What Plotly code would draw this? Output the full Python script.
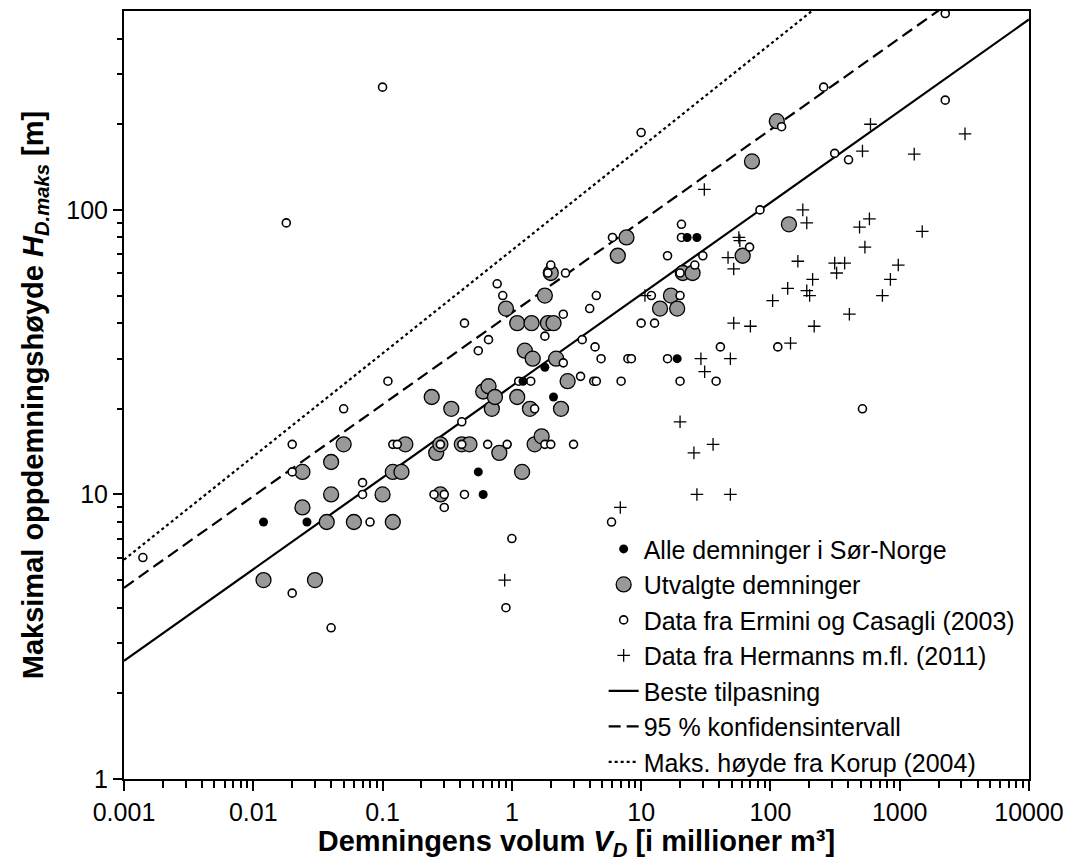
import plotly.graph_objects as go

# ---- Data ----
# Alle demninger i Sør-Norge (black dots)
sor_V = [0.012, 0.026, 0.55, 0.6, 1.22, 1.8, 2.1, 19, 22.7, 27]
sor_H = [8, 8, 12, 10, 25, 28, 22, 30, 80, 80]

# Utvalgte demninger (grey circles)
utv_V = [0.012, 0.03, 0.024, 0.024, 0.037, 0.04, 0.04, 0.05, 0.06, 0.1, 0.12, 0.12,
         0.14, 0.15, 0.24, 0.26, 0.28, 0.28, 0.34, 0.41, 0.47, 0.6, 0.66, 0.7, 0.74,
         0.8, 0.9, 1.1, 1.1, 1.2, 1.26, 1.45, 1.42, 1.38, 1.5, 1.7, 1.8, 1.9, 2.1,
         2.2, 2.4, 2.7, 2.0, 6.6, 7.7, 14, 17, 19, 21, 25, 61, 72, 112, 139]
utv_H = [5, 5, 12, 9, 8, 13, 10, 15, 8, 10, 8, 12,
         12, 15, 22, 14, 15, 10, 20, 15, 15, 23, 24, 20, 22,
         14, 45, 40, 22, 12, 32, 30, 40, 20, 15, 16, 50, 40, 40,
         30, 20, 25, 60, 69, 80, 45, 50, 45, 60, 60, 69, 148, 205, 89]

# Data fra Ermini og Casagli (2003) (open circles)
erm_V = [0.0014, 0.018, 0.1, 0.77, 0.85, 0.43, 0.66, 0.55, 0.11, 1.13, 0.41, 0.05,
         0.02, 0.12, 0.13, 0.28, 0.41, 0.65, 0.92, 0.02, 0.07, 0.07, 0.25, 0.3, 0.3,
         0.43, 0.08, 1.0, 0.02, 0.04, 0.9,
         2250, 10, 258, 122, 2250, 314, 402, 83, 20.5, 20.5, 6, 16, 30, 69, 2.0, 1.9,
         2.6, 4.5, 20, 12, 20, 26, 4.0, 2.5, 10, 12.7, 1.8, 3.5, 4.4, 2.5, 4.9, 7.9,
         8.4, 16, 41, 114, 1.4, 3.4, 4.3, 4.5, 7, 20, 38, 1.5, 515, 1.8, 2.0, 3.0, 5.9]
erm_H = [6, 90, 270, 55, 50, 40, 35, 32, 25, 25, 18, 20,
         15, 15, 15, 15, 15, 15, 15, 12, 11, 10, 10, 10, 9,
         10, 8, 7, 4.5, 3.4, 4,
         490, 187, 270, 196, 243, 158, 150, 100, 89, 80, 80, 69, 69, 74, 64, 60,
         60, 50, 50, 50, 60, 64, 45, 43, 40, 40, 36, 35, 33, 29, 30, 30,
         30, 30, 33, 33, 25, 26, 25, 25, 25, 25, 25, 20, 20, 15, 15, 15, 8]

# Data fra Hermanns m.fl. (2011) (plus signs)
her_V = [594, 3200, 515, 1295, 30.8, 178, 191, 489, 583, 1493, 538, 975, 847, 735,
         314, 375, 325, 163, 212, 136, 191, 201, 104, 58, 57, 47, 52, 10.7, 29, 49,
         31, 143, 52, 70, 408, 218, 20, 36, 25.6, 27, 49, 6.9, 0.88]
her_H = [200, 185, 161, 157, 118, 100, 90, 87, 93, 84, 74, 64, 57, 50,
         65, 65, 60, 66, 57, 53, 52, 50, 48, 78, 80, 68, 62, 50, 30, 30,
         27, 34, 40, 39, 43, 39, 18, 15, 14, 10, 10, 9, 5]

# Lines (end points read at the axis limits)
line_V = [0.001, 10000]
fit_H = [2.6, 467]        # Beste tilpasning
ci_H = [4.7, 843]         # 95 % konfidensintervall
korup_H = [5.9, 2030]     # Maks. høyde fra Korup (2004)

x_tickvals = [0.001, 0.01, 0.1, 1, 10, 100, 1000, 10000]
x_ticktext = ["0.001", "0.01", "0.1", "1", "10", "100", "1000", "10000"]
y_tickvals = [1, 10, 100]
y_ticktext = ["1", "10", "100"]

x_minor = [m * 10 ** d for d in range(-3, 4) for m in range(2, 10)]
y_minor = [m * 10 ** d for d in range(0, 3) for m in range(2, 10) if m * 10 ** d < 500]

FONT = "Liberation Sans, Arial, sans-serif"

fig = go.Figure()

fig.add_trace(go.Scatter(x=line_V, y=fit_H, mode="lines", name="Beste tilpasning",
                         line=dict(color="black", width=2.2), legendrank=5))
fig.add_trace(go.Scatter(x=line_V, y=ci_H, mode="lines", name="95 % konfidensintervall",
                         line=dict(color="black", width=2.2, dash="12px,6px"), legendrank=6))
fig.add_trace(go.Scatter(x=line_V, y=korup_H, mode="lines", name="Maks. høyde fra Korup (2004)",
                         line=dict(color="black", width=2.2, dash="3px,3px"), legendrank=7))

fig.add_trace(go.Scatter(x=utv_V, y=utv_H, mode="markers", name="Utvalgte demninger",
                         marker=dict(symbol="circle", size=15, color="#999999",
                                     line=dict(color="black", width=1.3)), legendrank=2))
fig.add_trace(go.Scatter(x=erm_V, y=erm_H, mode="markers", name="Data fra Ermini og Casagli (2003)",
                         marker=dict(symbol="circle", size=8, color="white",
                                     line=dict(color="black", width=1.6)), legendrank=3))
fig.add_trace(go.Scatter(x=her_V, y=her_H, mode="markers", name="Data fra Hermanns m.fl. (2011)",
                         marker=dict(symbol="cross-thin", size=9,
                                     line=dict(color="black", width=1.3)), legendrank=4))
fig.add_trace(go.Scatter(x=sor_V, y=sor_H, mode="markers", name="Alle demninger i Sør-Norge",
                         marker=dict(symbol="circle", size=9, color="black",
                                     line=dict(color="black", width=0)), legendrank=1))

axis_common = dict(
    showgrid=False, zeroline=False, showline=True, linecolor="black", linewidth=2,
    mirror=True, ticks="outside", tickcolor="black", tickwidth=1.5,
    tickfont=dict(family=FONT, size=25, color="black"),
)

fig.update_xaxes(type="log", range=[-3, 4], tickmode="array", tickvals=x_tickvals,
                 ticktext=x_ticktext, ticklen=10,
                 minor=dict(tickmode="array", tickvals=x_minor, ticks="outside", ticklen=7,
                            tickwidth=1.5, tickcolor="black", showgrid=False),
                 title=dict(text="<b>Demningens volum <i>V<sub>D</sub></i> [i millioner m³]</b>",
                            font=dict(family=FONT, size=29, color="black"), standoff=6),
                 **axis_common)
fig.update_yaxes(type="log", range=[0, 2.69897], tickmode="array", tickvals=y_tickvals,
                 ticktext=y_ticktext, ticklen=9,
                 minor=dict(tickmode="array", tickvals=y_minor, ticks="outside", ticklen=5,
                            tickwidth=1.5, tickcolor="black", showgrid=False),
                 title=dict(text="<b>Maksimal oppdemningshøyde <i>H<sub>D.maks</sub></i> [m]</b>",
                            font=dict(family=FONT, size=29, color="black"), standoff=14),
                 **axis_common)

fig.update_layout(
    width=1073, height=861,
    margin=dict(l=124, r=40, t=9, b=80),
    paper_bgcolor="white", plot_bgcolor="white",
    font=dict(family=FONT, color="black"),
    showlegend=True,
    legend=dict(x=0.53, y=-0.008, xanchor="left", yanchor="bottom",
                bgcolor="rgba(0,0,0,0)", borderwidth=0,
                font=dict(family=FONT, size=25, color="black"),
                itemsizing="trace", tracegroupgap=0),
)

fig.write_html("out.html")
